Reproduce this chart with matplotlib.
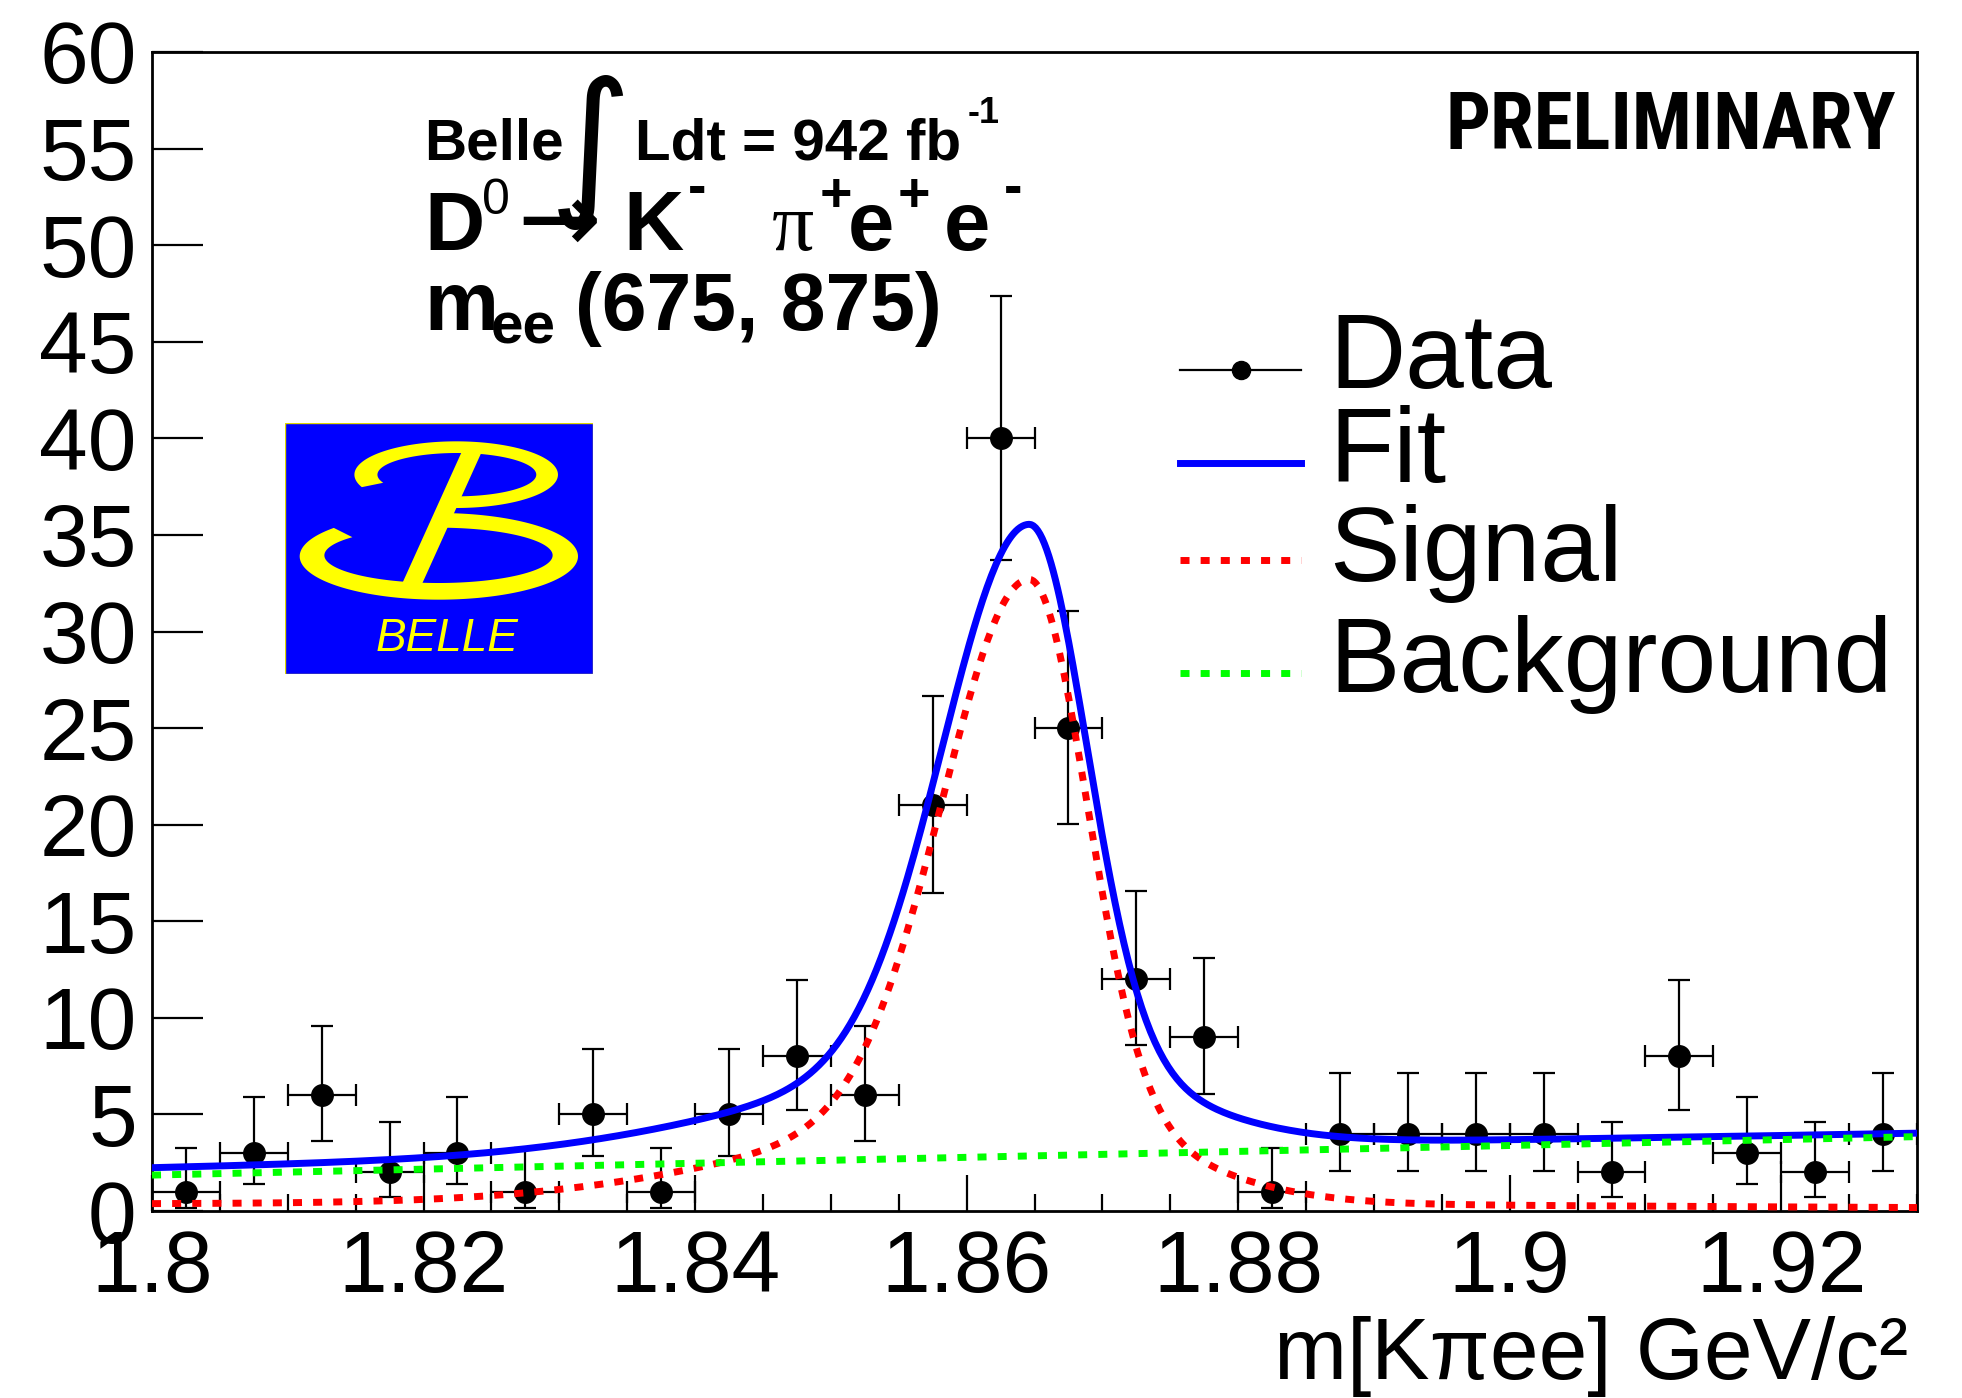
import numpy as np
import matplotlib
matplotlib.use("Agg")
import matplotlib.pyplot as plt
from matplotlib import font_manager
from matplotlib.patches import Polygon, Rectangle
from matplotlib.lines import Line2D
from matplotlib.ticker import MultipleLocator, FuncFormatter

W, H, DPI = 1962, 1398, 100

# ---- data: m(K pi e e) histogram, 26 bins of 5 MeV ----
bin_lo, bin_hi, n_bins = 1.80, 1.93, 26
counts = [1, 3, 6, 2, 3, 1, 5, 1, 5, 8, 6, 21, 40, 25, 12, 9, 1,
          4, 4, 4, 4, 2, 8, 3, 2, 4]

# ---- fit model parameters ----
peak_mean = 1.8646
core = (27.7, 0.0063, 0.0042)        # amplitude, sigma left, sigma right
shoulder = (4.6, 0.018, 0.0098)      # amplitude, sigma left, sigma right
tail = (0.4, 0.25, 0.059)            # amplitude, width left, width right (Lorentzian)
bkg_lo, bkg_hi = 1.86, 3.85          # linear background at the range ends

y_ticks = list(range(0, 61, 5))
legend_labels = ["Data", "Fit", "Signal", "Background"]

plt.rcParams["font.family"] = ["Liberation Sans", "DejaVu Sans"]


def bifur_gauss(x, mu, amp, sl, sr):
    d = x - mu
    s = np.where(d < 0, sl, sr)
    return amp * np.exp(-0.5 * (d / s) ** 2)


def bifur_lorentz(x, mu, amp, gl, gr):
    d = x - mu
    g = np.where(d < 0, gl, gr)
    return amp / (1.0 + (d / g) ** 2)


def signal(x):
    return (bifur_gauss(x, peak_mean, *core)
            + bifur_gauss(x, peak_mean, *shoulder)
            + bifur_lorentz(x, peak_mean, *tail))


def background(x):
    return bkg_lo + (bkg_hi - bkg_lo) * (x - bin_lo) / (bin_hi - bin_lo)


def poisson_interval(n):
    n = np.asarray(n, float)
    lo = n * (1 - 1 / (9 * n) - 1 / (3 * np.sqrt(n))) ** 3
    m = n + 1
    hi = m * (1 - 1 / (9 * m) + 1 / (3 * np.sqrt(m))) ** 3
    return n - lo, hi - n


edges = np.linspace(bin_lo, bin_hi, n_bins + 1)
centers = 0.5 * (edges[:-1] + edges[1:])
half_w = 0.5 * (edges[1] - edges[0])
err_lo, err_hi = poisson_interval(counts)

fig = plt.figure(figsize=(W / DPI, H / DPI), dpi=DPI)
ax = fig.add_axes([152 / W, 1 - 1211 / H, (1917 - 152) / W, (1211 - 52) / H])
ax.set_xlim(bin_lo, bin_hi)
ax.set_ylim(0, 60)

ax.errorbar(centers, counts, yerr=[err_lo, err_hi], xerr=half_w, fmt="o",
            color="black", ms=15.5, elinewidth=1.6, capsize=8, capthick=1.6,
            zorder=2)

xs = np.linspace(bin_lo, bin_hi, 800)
dots = (0, (1.3, 1.6))
styles = [
    dict(color="black", lw=1.6, marker="o", ms=13, markevery=[1]),
    dict(color="#0000ff", lw=5),
    dict(color="#ff0000", lw=5, ls=dots),
    dict(color="#00ff00", lw=5, ls=dots),
]
ax.plot(xs, signal(xs) + background(xs), zorder=3, **styles[1])
ax.plot(xs, signal(xs), zorder=4, **styles[2])
ax.plot(xs, background(xs), zorder=5, **styles[3])

for s in ax.spines.values():
    s.set_linewidth(2)
ax.set_yticks(y_ticks)
ax.xaxis.set_major_locator(MultipleLocator(0.02))
ax.xaxis.set_minor_locator(MultipleLocator(0.005))
ax.xaxis.set_major_formatter(FuncFormatter(lambda v, p: f"{v:g}"))
ax.tick_params(axis="y", which="major", direction="in", length=36.7, width=1.6,
               labelsize=63, pad=11, right=False)
ax.tick_params(axis="y", which="minor", left=False, right=False)
ax.tick_params(axis="x", which="major", direction="in", length=26, width=1.6,
               labelsize=63, pad=13, top=False)
ax.tick_params(axis="x", which="minor", direction="in", length=12.3, width=1.6,
               top=False)


def fx(x):
    return x / W


def fy(y):
    return 1 - y / H


# legend: sample line at left, label to its right
leg_handle_y = [370, 463, 560, 673]
leg_text_y = [388, 482, 581, 692]
for label, st, yh, yt in zip(legend_labels, styles, leg_handle_y, leg_text_y):
    fig.add_artist(Line2D([fx(1180), fx(1240.5), fx(1301)], [fy(yh)] * 3,
                          transform=fig.transFigure, **st))
    fig.text(fx(1329), fy(yt), label, fontsize=76, ha="left", va="baseline")

# axis title
fig.text(fx(1908), fy(1379), "m[K\u03c0ee] GeV/c\u00b2", ha="right",
         va="baseline", fontsize=63)


def put(s, x, y, size, **kw):
    kw.setdefault("ha", "left")
    kw.setdefault("va", "baseline")
    return fig.text(fx(x), fy(y), s, fontsize=size, **kw)


# header text
put("Belle", 424, 160, 42, weight="bold")
put("\u222b", 590, 152, 115, family="DejaVu Sans", ha="center", va="center")
put("Ldt = 942 fb", 635, 160, 42, weight="bold")
put("-1", 968, 123, 26, weight="bold")

put("D", 424, 250, 60, weight="bold")
put("0", 482, 214, 36)
put("\u2192", 517, 252, 72, family="DejaVu Sans")
put("K", 623, 250, 60, weight="bold")
put("-", 688, 204, 40, weight="bold")
put("\u03c0", 772, 250, 60, family="Liberation Serif")
put("+", 820, 211, 40, weight="bold")
put("e", 848, 250, 60, weight="bold")
put("+", 898, 211, 40, weight="bold")
put("e", 944, 250, 60, weight="bold")
put("-", 1004, 204, 40, weight="bold")

put("m", 424, 330, 60, weight="bold")
put("ee", 491, 343, 42, weight="bold")
put("(675, 875)", 575, 330, 58, weight="bold")

# PRELIMINARY stamp in a condensed face, fitted to its width
names = {f.name for f in font_manager.fontManager.ttflist}
narrow = next((n for n in ["Liberation Sans Narrow", "DejaVu Sans Condensed",
                           "Roboto Condensed"] if n in names), "Liberation Sans")
prelim = put("PRELIMINARY", 1896, 149, 56, weight="bold", ha="right",
             family=[narrow, "Liberation Sans"])
renderer = fig.canvas.get_renderer()
wpx = prelim.get_window_extent(renderer).width
prelim.set_fontsize(56 * 451.0 / wpx)

# Belle logo
lax = fig.add_axes([fx(285), fy(674), 308 / W, 251 / H])
lax.set_xlim(47, 970)
lax.set_ylim(823, 70)
lax.axis("off")
yellow = "#ffff00"
lax.add_patch(Rectangle((47, 70), 923, 753, facecolor="#0000ff",
                        edgecolor="#e0d800", lw=1))


def ring(cxo, cyo, ao, bo, cxi, cyi, ai, bi, t0, t1):
    t = np.radians(np.linspace(t0, t1, 240))
    outer = np.c_[cxo + ao * np.cos(t), cyo + bo * np.sin(t)]
    inner = np.c_[cxi + ai * np.cos(t[::-1]), cyi + bi * np.sin(t[::-1])]
    return Polygon(np.vstack([outer, inner]), closed=True, fc=yellow, ec="none")


lax.add_patch(ring(560, 225, 305, 100, 562, 225, 238, 65, 158, 460))
lax.add_patch(ring(508, 470, 417, 130, 507, 467, 342, 83, 221, -88))
lax.add_patch(Polygon([(575, 160), (635, 160), (458, 552), (398, 552)],
                      closed=True, fc=yellow, ec="none"))
lax.text(532, 755, "BELLE", color=yellow, fontsize=33, style="italic",
         ha="center", va="baseline")

fig.savefig("out.png", dpi=DPI)
